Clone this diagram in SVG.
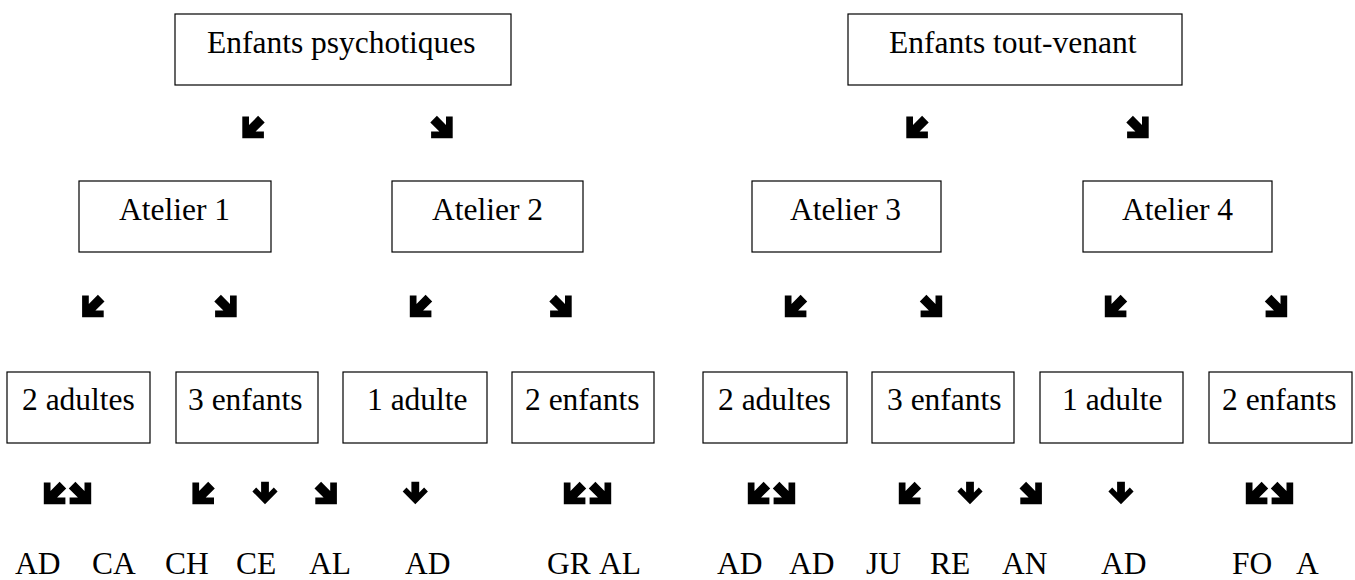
<svg xmlns="http://www.w3.org/2000/svg" xmlns:xlink="http://www.w3.org/1999/xlink" width="1355" height="580" viewBox="0 0 1355 580">
<style>
  .box { fill: #ffffff; stroke: #000000; stroke-width: 1.2; }
  .lbl { font-family: "Liberation Serif", "Times New Roman", serif; font-size: 31.5px; fill: #000000; }
  .arr { fill: #000000; stroke: none; }
</style>
<defs>
  <path id="aDL" class="arr" d="M4.6,-11.2 L11.2,-4.6 L2.1,4.5 L10.4,4.5 L10.4,11.2 L-11.2,11.2 L-11.2,-10.4 L-4.5,-10.4 L-4.5,-2.1 Z"/>
  <path id="aDR" class="arr" d="M-4.6,-11.2 L-11.2,-4.6 L-2.1,4.5 L-10.4,4.5 L-10.4,11.2 L11.2,11.2 L11.2,-10.4 L4.5,-10.4 L4.5,-2.1 Z"/>
  <path id="aD" class="arr" d="M-3.9,-11.2 L3.9,-11.2 L3.9,-0.5 L8.8,-5.4 L12.6,-1.5 L0,11.2 L-12.6,-1.5 L-8.8,-5.4 L-3.9,-0.5 Z"/>
</defs>
<rect width="1355" height="580" fill="#ffffff"/>

<g id="connectors">
  <use xlink:href="#aDL" x="253.5" y="127"/>
  <use xlink:href="#aDR" x="441.5" y="127"/>
  <use xlink:href="#aDL" x="917.5" y="127"/>
  <use xlink:href="#aDR" x="1137.5" y="127"/>

  <use xlink:href="#aDL" x="93.3" y="306"/>
  <use xlink:href="#aDR" x="225.5" y="306"/>
  <use xlink:href="#aDL" x="421" y="306"/>
  <use xlink:href="#aDR" x="560.5" y="306"/>
  <use xlink:href="#aDL" x="796" y="306"/>
  <use xlink:href="#aDR" x="931" y="306"/>
  <use xlink:href="#aDL" x="1116" y="306"/>
  <use xlink:href="#aDR" x="1276" y="306"/>

  <use xlink:href="#aDL" x="55" y="493"/>
  <use xlink:href="#aDR" x="80" y="493"/>
  <use xlink:href="#aDL" x="203.6" y="493"/>
  <use xlink:href="#aD" x="265" y="493"/>
  <use xlink:href="#aDR" x="325.7" y="493"/>
  <use xlink:href="#aD" x="415.3" y="493"/>
  <use xlink:href="#aDL" x="575" y="493"/>
  <use xlink:href="#aDR" x="600" y="493"/>

  <use xlink:href="#aDL" x="759" y="493"/>
  <use xlink:href="#aDR" x="784" y="493"/>
  <use xlink:href="#aDL" x="910" y="493"/>
  <use xlink:href="#aD" x="970" y="493"/>
  <use xlink:href="#aDR" x="1030.7" y="493"/>
  <use xlink:href="#aD" x="1121" y="493"/>
  <use xlink:href="#aDL" x="1257" y="493"/>
  <use xlink:href="#aDR" x="1282" y="493"/>
</g>

<g id="n-psy"><rect class="box" x="175" y="14" width="336" height="71"/><text class="lbl" x="207" y="53">Enfants psychotiques</text></g>
<g id="n-tv"><rect class="box" x="848" y="14" width="334" height="71"/><text class="lbl" x="889" y="53">Enfants tout-venant</text></g>

<g id="n-at1"><rect class="box" x="79" y="181" width="192" height="71"/><text class="lbl" x="119" y="220">Atelier 1</text></g>
<g id="n-at2"><rect class="box" x="392" y="181" width="191" height="71"/><text class="lbl" x="432" y="220">Atelier 2</text></g>
<g id="n-at3"><rect class="box" x="752" y="181" width="189" height="71"/><text class="lbl" x="790" y="220">Atelier 3</text></g>
<g id="n-at4"><rect class="box" x="1083" y="181" width="189" height="71"/><text class="lbl" x="1122" y="220">Atelier 4</text></g>

<g id="n-a1-ad"><rect class="box" x="7" y="372" width="143" height="71"/><text class="lbl" x="22" y="410">2 adultes</text></g>
<g id="n-a1-en"><rect class="box" x="176" y="372" width="142" height="71"/><text class="lbl" x="188" y="410">3 enfants</text></g>
<g id="n-a2-ad"><rect class="box" x="343" y="372" width="144" height="71"/><text class="lbl" x="367" y="410">1 adulte</text></g>
<g id="n-a2-en"><rect class="box" x="512" y="372" width="142" height="71"/><text class="lbl" x="525" y="410">2 enfants</text></g>
<g id="n-a3-ad"><rect class="box" x="703" y="372" width="144" height="71"/><text class="lbl" x="718" y="410">2 adultes</text></g>
<g id="n-a3-en"><rect class="box" x="872" y="372" width="142" height="71"/><text class="lbl" x="887" y="410">3 enfants</text></g>
<g id="n-a4-ad"><rect class="box" x="1040" y="372" width="143" height="71"/><text class="lbl" x="1062" y="410">1 adulte</text></g>
<g id="n-a4-en"><rect class="box" x="1209" y="372" width="143" height="71"/><text class="lbl" x="1222" y="410">2 enfants</text></g>

<g id="leaves">
  <text class="lbl" x="15" y="574">AD</text>
  <text class="lbl" x="92" y="574">CA</text>
  <text class="lbl" x="165" y="574">CH</text>
  <text class="lbl" x="236" y="574">CE</text>
  <text class="lbl" x="309" y="574">AL</text>
  <text class="lbl" x="405" y="574">AD</text>
  <text class="lbl" x="547" y="574">GR</text>
  <text class="lbl" x="599" y="574">AL</text>
  <text class="lbl" x="717" y="574">AD</text>
  <text class="lbl" x="789" y="574">AD</text>
  <text class="lbl" x="866" y="574">JU</text>
  <text class="lbl" x="930" y="574">RE</text>
  <text class="lbl" x="1002" y="574">AN</text>
  <text class="lbl" x="1101" y="574">AD</text>
  <text class="lbl" x="1232" y="574">FO</text>
  <text class="lbl" x="1296" y="574">A</text>
</g>
</svg>
